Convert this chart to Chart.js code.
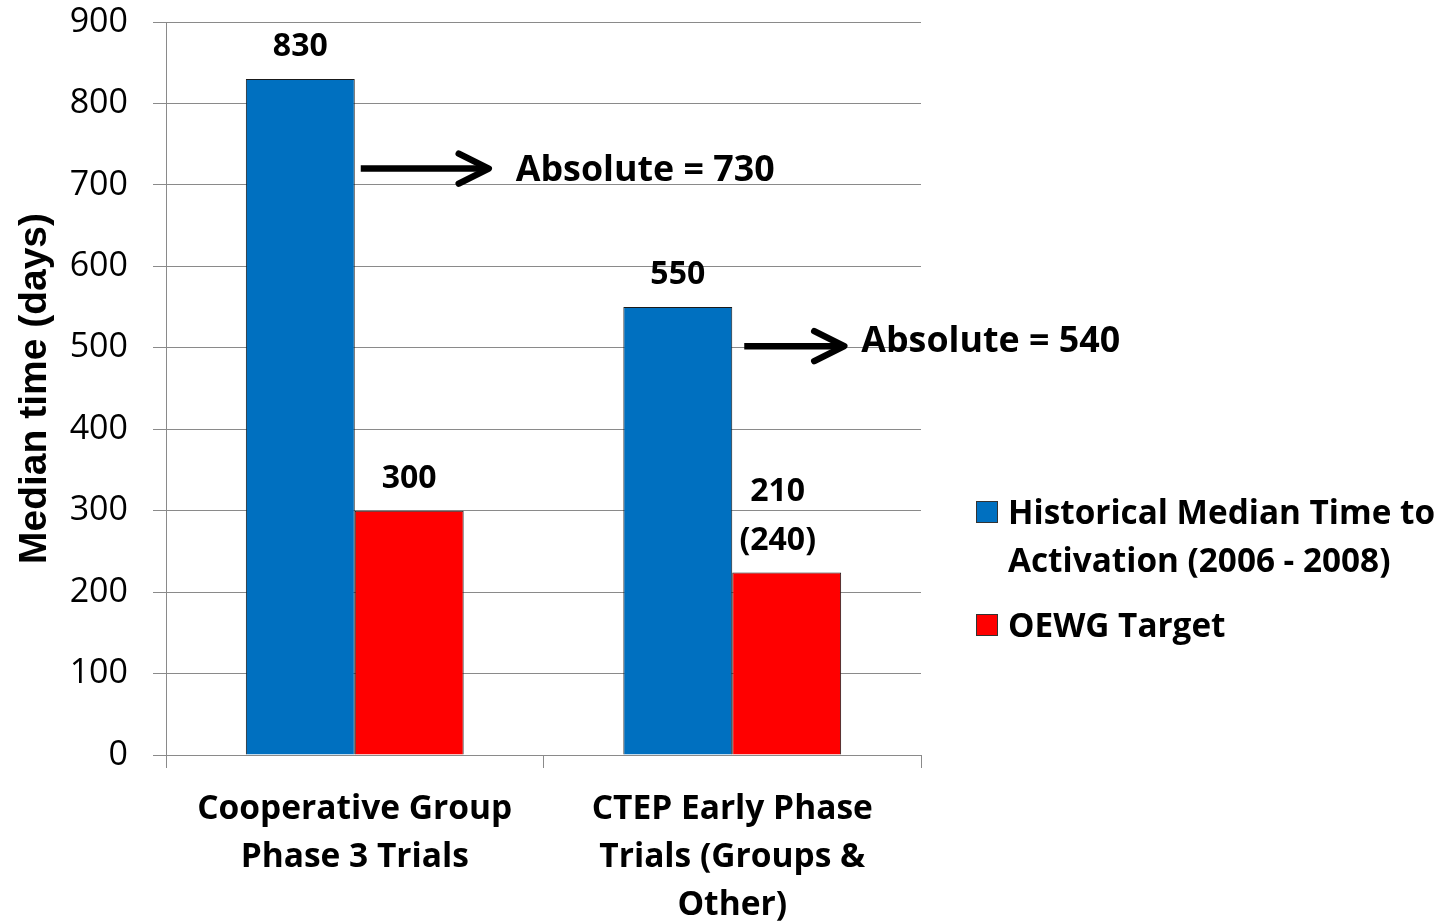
<!DOCTYPE html>
<html><head><meta charset="utf-8">
<script src="https://cdn.jsdelivr.net/npm/chart.js@4.4.0/dist/chart.umd.min.js"></script>
<style>html,body{margin:0;padding:0;background:#fff;}#wrap{width:1455px;height:923px;}</style>
</head><body><div id="wrap"><canvas id="c" width="1455" height="923"></canvas></div>
<script>
const categories = [['Cooperative Group', 'Phase 3 Trials'], ['CTEP Early Phase', 'Trials (Groups &', 'Other)']];
const seriesNames = [['Historical Median Time to', 'Activation (2006 - 2008)'], ['OEWG Target']];
const historical = [830, 550];
const target = [300, 224];
const historicalLabels = [['830'], ['550']];
const targetLabels = [['300'], ['210', '(240)']];
const absoluteGaps = ['Absolute = 730', 'Absolute = 540'];
const gapArrowValues = [720, 502];
const yMin = 0, yMax = 900, yStep = 100;

const FONT = '"Open Sans"';
const BLUE = '#0070C0', RED = '#FF0000', GRID = '#8a8a8a';

const annotate = {
  id: 'annotate',
  afterDatasetsDraw(chart) {
    const ctx = chart.ctx;
    const ys = chart.scales.y;
    ctx.save();
    ctx.fillStyle = '#000';
    ctx.textAlign = 'center';
    ctx.textBaseline = 'middle';
    ctx.font = 'bold 32px ' + FONT;
    [historicalLabels, targetLabels].forEach((set, di) => {
      const meta = chart.getDatasetMeta(di);
      meta.data.forEach((bar, j) => {
        const lines = set[j];
        const dx = lines.length > 1 ? -9 : 0;
        lines.forEach((t, k) => {
          ctx.fillText(t, bar.x + dx, bar.y - 32 - (lines.length - 1 - k) * 49);
        });
      });
    });
    // arrows + absolute gap text
    const meta0 = chart.getDatasetMeta(0);
    const startGap = [6, 12], arrowLen = [128, 100], textGap = [27, 17], textDy = [2, -4];
    ctx.strokeStyle = '#000';
    ctx.lineWidth = 6.5;
    ctx.lineJoin = 'round';
    ctx.textAlign = 'left';
    ctx.font = 'bold 35.8px ' + FONT;
    absoluteGaps.forEach((txt, i) => {
      const bar = meta0.data[i];
      const yy = ys.getPixelForValue(gapArrowValues[i]);
      const x0 = bar.x + bar.width / 2 + startGap[i];
      const x1 = x0 + arrowLen[i];
      ctx.beginPath();
      ctx.lineCap = 'butt';
      ctx.moveTo(x0, yy); ctx.lineTo(x1 - 4, yy); ctx.stroke();
      ctx.lineCap = 'round';
      ctx.beginPath();
      ctx.moveTo(x1 - 30, yy - 15); ctx.lineTo(x1, yy); ctx.lineTo(x1 - 30, yy + 15);
      ctx.stroke();
      ctx.fillText(txt, x1 + textGap[i], yy + textDy[i]);
    });
    ctx.restore();
  },
  afterDraw(chart) {
    // legend
    const ctx = chart.ctx;
    ctx.save();
    ctx.font = 'bold 33.3px ' + FONT;
    ctx.textAlign = 'left';
    ctx.textBaseline = 'middle';
    const itemY = [512, 625];
    chart.data.datasets.forEach((ds, i) => {
      const y0 = itemY[i];
      ctx.fillStyle = ds.backgroundColor;
      ctx.fillRect(976, y0 - 11, 22, 22);
      ctx.strokeStyle = '#333';
      ctx.lineWidth = 1;
      ctx.strokeRect(976.5, y0 - 10.5, 21, 21);
      ctx.fillStyle = '#000';
      seriesNames[i].forEach((t, k) => ctx.fillText(t, 1008, y0 + 3 + k * 48));
    });
    ctx.restore();
  }
};

new Chart(document.getElementById('c'), {
  type: 'bar',
  data: {
    labels: categories,
    datasets: [
      { label: seriesNames[0].join(' '), data: historical, backgroundColor: BLUE, borderColor: '#1a1a1a', borderWidth: 1 },
      { label: seriesNames[1].join(' '), data: target, backgroundColor: RED, borderColor: '#1a1a1a', borderWidth: 1 }
    ]
  },
  options: {
    responsive: false,
    animation: false,
    layout: { padding: { top: 22, right: 534, bottom: 0, left: 0 } },
    categoryPercentage: 0.577,
    barPercentage: 1,
    plugins: { legend: { display: false }, tooltip: { enabled: false } },
    scales: {
      x: {
        afterFit: s => { s.height = 168; },
        grid: { drawOnChartArea: false, drawTicks: true, tickLength: 13, color: GRID, lineWidth: 1 },
        border: { color: GRID, width: 1 },
        ticks: { color: '#000', font: { family: FONT, size: 33.5, weight: 'bold', lineHeight: 1.43 }, padding: 18, maxRotation: 0 }
      },
      y: {
        min: yMin, max: yMax,
        afterFit: s => { s.width = 166; s.paddingTop = 0; s.paddingBottom = 0; },
        grid: { color: GRID, lineWidth: 1, tickLength: 13 },
        border: { color: GRID, width: 1 },
        ticks: { stepSize: yStep, color: '#000', font: { family: FONT, size: 34 }, padding: 25 },
        title: { display: true, text: 'Median time (days)', color: '#000', font: { family: 'Liberation Sans', size: 39, weight: 'bold' }, padding: { top: 12, bottom: 0 } }
      }
    }
  },
  plugins: [annotate]
});
</script></body></html>
